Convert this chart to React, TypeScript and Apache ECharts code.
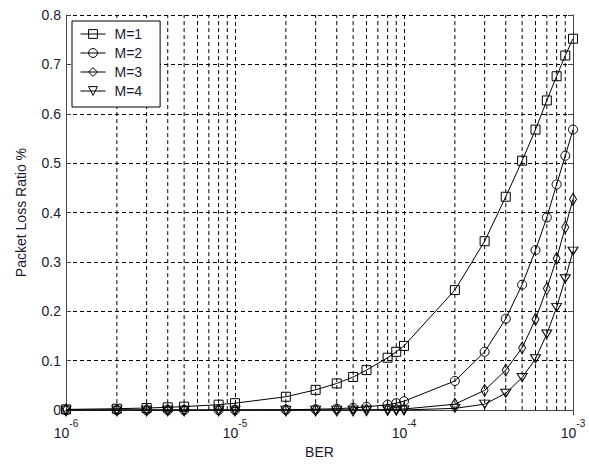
import React, { useEffect, useRef } from "react";
import * as echarts from "echarts";

const berValues = [
  1e-6, 2e-6, 3e-6, 4e-6, 5e-6, 8e-6, 1e-5,
  2e-5, 3e-5, 4e-5, 5e-5, 6e-5, 8e-5, 9e-5, 1e-4,
  2e-4, 3e-4, 4e-4, 5e-4, 6e-4, 7e-4, 8e-4, 9e-4, 1e-3,
];
const lossM1 = [
  0.0014, 0.0028, 0.0042, 0.0056, 0.007, 0.011, 0.014,
  0.027, 0.041, 0.054, 0.067, 0.081, 0.106, 0.118, 0.13,
  0.243, 0.342, 0.432, 0.505, 0.568, 0.627, 0.676, 0.718, 0.752,
];
const lossM2 = [
  0, 0, 0, 0, 0, 0.0001, 0.0002,
  0.0007, 0.0017, 0.0029, 0.0045, 0.0066, 0.011, 0.014, 0.018,
  0.059, 0.118, 0.185, 0.254, 0.324, 0.39, 0.457, 0.515, 0.568,
];
const lossM3 = [
  0, 0, 0, 0, 0, 0, 0,
  0, 0.0001, 0.0002, 0.0003, 0.0005, 0.0012, 0.0016, 0.0022,
  0.012, 0.04, 0.081, 0.126, 0.184, 0.246, 0.307, 0.37, 0.427,
];
const lossM4 = [
  0, 0, 0, 0, 0, 0, 0,
  0, 0, 0, 0, 0.0001, 0.0001, 0.0002, 0.0003,
  0.0035, 0.012, 0.034, 0.066, 0.104, 0.154, 0.208, 0.266, 0.322,
];
const seriesNames = ["M=1", "M=2", "M=3", "M=4"];
const yTicks = [0, 0.1, 0.2, 0.3, 0.4, 0.5, 0.6, 0.7, 0.8];
const decades = [1e-6, 1e-5, 1e-4];
const multipliers = [2, 3, 4, 5, 6, 7, 8, 9];

const FONT = "'Liberation Sans', Arial, sans-serif";
const TXT = "#1a1a2e";
const AXC = "#444";
const DASH = [4, 3];

export default function App() {
  const ref = useRef<HTMLDivElement>(null);
  useEffect(() => {
    if (!ref.current) return;
    const chart = echarts.init(ref.current, null, { renderer: "svg" });
    const minorX: number[] = [];
    decades.forEach((d) => multipliers.forEach((m) => minorX.push(d * m)));
    const yMin = yTicks[0];
    const yMax = yTicks[yTicks.length - 1];
    const gridSeries: any[] = minorX.map((x) => ({
      type: "line",
      silent: true,
      data: [[x, yMin], [x, yMax]],
      symbol: "none",
      lineStyle: { color: "#000", width: 1, type: DASH },
      z: 1,
      tooltip: { show: false },
    }));
    const all = [lossM1, lossM2, lossM3, lossM4];
    const symbols = ["rect", "circle", "diamond", "triangle"];
    const sizes: any[] = [[9, 9], 9, [7, 12], [10, 8]];
    const series: any[] = all.map((vals, i) => ({
      name: seriesNames[i],
      type: "line",
      data: berValues.map((x, k) => [x, vals[k]]),
      symbol: symbols[i],
      symbolSize: sizes[i],
      symbolRotate: i === 3 ? 180 : 0,
      showAllSymbol: true,
      lineStyle: { color: "#000", width: 1 },
      itemStyle: { color: "rgba(255,255,255,0)", borderColor: "#000", borderWidth: 1 },
      z: 3,
    }));
    chart.setOption({
      animation: false,
      backgroundColor: "#fff",
      grid: { left: 66, top: 15, width: 507, height: 398, containLabel: false },
      legend: {
        orient: "vertical",
        left: 72,
        top: 21,
        padding: [6, 18, 9, 8],
        borderColor: "#000",
        borderWidth: 1,
        backgroundColor: "#fff",
        itemWidth: 25,
        itemHeight: 11,
        itemGap: 5,
        data: seriesNames,
        lineStyle: { width: 1, color: "#000" },
        itemStyle: { borderWidth: 1, borderColor: "#000", color: "rgba(255,255,255,0)" },
        textStyle: { fontFamily: FONT, fontSize: 14, color: TXT, lineHeight: 13, padding: [0, 0, 0, 4] },
      },
      xAxis: [
        {
          type: "log",
          logBase: 10,
          min: 1e-6,
          max: 1e-3,
          name: "BER",
          nameLocation: "middle",
          nameGap: 31,
          nameTextStyle: { fontFamily: FONT, fontSize: 14, color: TXT },
          axisLine: { lineStyle: { color: AXC, width: 1 } },
          axisTick: { show: true, inside: true, length: 5, lineStyle: { color: AXC } },
          splitLine: { show: true, lineStyle: { color: "#000", width: 1, type: DASH } },
          axisLabel: {
            margin: 8,
            formatter: (v: number) => `{b|10}{s|${Math.round(Math.log10(v))}}`,
            rich: {
              b: { fontFamily: FONT, fontSize: 14, color: TXT, lineHeight: 22, verticalAlign: "bottom" },
              s: { fontFamily: FONT, fontSize: 10, color: TXT, lineHeight: 10, verticalAlign: "top" },
            },
          },
        },
        {
          type: "log",
          logBase: 10,
          min: 1e-6,
          max: 1e-3,
          position: "top",
          axisLine: { show: true, lineStyle: { color: AXC, width: 1 } },
          axisTick: { show: true, inside: true, length: 5, lineStyle: { color: AXC } },
          axisLabel: { show: false },
          splitLine: { show: false },
        },
      ],
      yAxis: [
        {
          type: "value",
          min: yMin,
          max: yMax,
          interval: 0.1,
          name: "Packet Loss Ratio %",
          nameLocation: "middle",
          nameGap: 38,
          nameTextStyle: { fontFamily: FONT, fontSize: 14, color: TXT },
          axisLine: { show: true, lineStyle: { color: AXC, width: 1 } },
          axisTick: { show: true, inside: true, length: 5, lineStyle: { color: AXC } },
          splitLine: { show: true, lineStyle: { color: "#000", width: 1, type: DASH } },
          axisLabel: { fontFamily: FONT, fontSize: 14, color: TXT, margin: 5 },
        },
        {
          type: "value",
          min: yMin,
          max: yMax,
          interval: 0.1,
          position: "right",
          axisLine: { show: true, lineStyle: { color: AXC, width: 1 } },
          axisTick: { show: true, inside: true, length: 5, lineStyle: { color: AXC } },
          axisLabel: { show: false },
          splitLine: { show: false },
        },
      ],
      series: [...gridSeries, ...series],
    });
    return () => chart.dispose();
  }, []);
  return (
    <div
      ref={ref}
      style={{ position: "fixed", left: 0, top: 0, width: 589, height: 464, background: "#fff" }}
    />
  );
}
